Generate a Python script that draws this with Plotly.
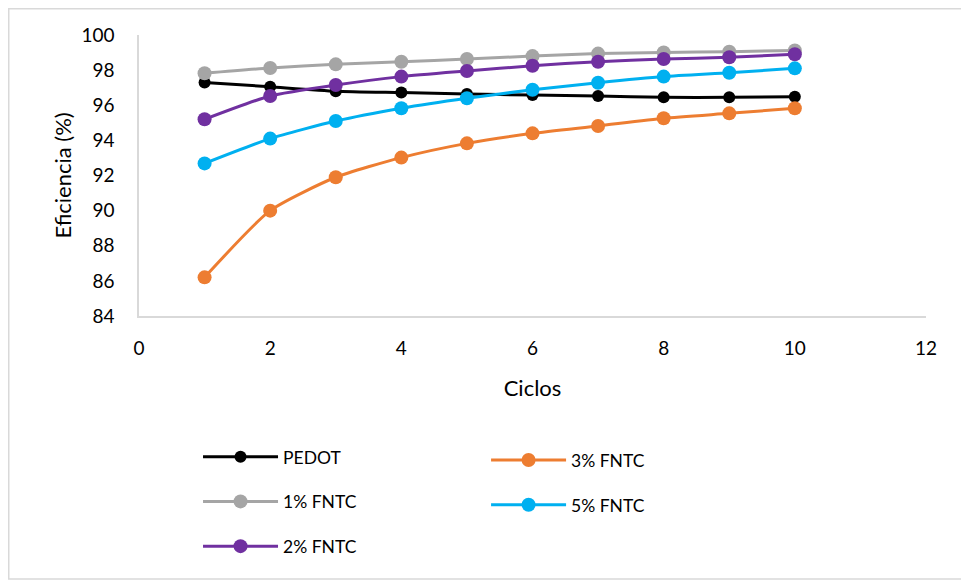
import plotly.graph_objects as go

ciclos = [1, 2, 3, 4, 5, 6, 7, 8, 9, 10]
pedot = [97.3, 97.05, 96.8, 96.72, 96.64, 96.58, 96.53, 96.45, 96.45, 96.49]
fntc1 = [97.82, 98.12, 98.33, 98.48, 98.63, 98.8, 98.94, 99.01, 99.05, 99.12]
fntc2 = [95.2, 96.53, 97.15, 97.63, 97.95, 98.25, 98.48, 98.63, 98.73, 98.9]
fntc3 = [86.2, 90.0, 91.9, 93.02, 93.83, 94.4, 94.82, 95.26, 95.54, 95.83]
fntc5 = [92.69, 94.1, 95.1, 95.83, 96.4, 96.88, 97.28, 97.63, 97.85, 98.1]

series = [
    ("PEDOT", pedot, "#000000", 12, "legend"),
    ("1% FNTC", fntc1, "#A5A5A5", 14, "legend"),
    ("2% FNTC", fntc2, "#7030A0", 14, "legend"),
    ("3% FNTC", fntc3, "#ED7D31", 14, "legend2"),
    ("5% FNTC", fntc5, "#00B0F0", 14, "legend2"),
]

fig = go.Figure()
for name, vals, color, msize, leg in series:
    fig.add_trace(go.Scatter(
        x=ciclos, y=vals, name=name, mode="lines+markers",
        line=dict(color=color, width=3, shape="spline", smoothing=0.6),
        marker=dict(color=color, size=msize),
        legend=leg, legendgroup=name,
    ))

font_family = "Lato, 'Open Sans', sans-serif"
legend_common = dict(
    orientation="v", tracegroupgap=19, font=dict(family=font_family, size=17.5, color="#000"),
    bgcolor="rgba(0,0,0,0)", itemwidth=75, yanchor="top", xanchor="left",
)

W, H = 961, 573
L, R, T, B = 131, 43, 27, 265
pw, ph = W - L - R, H - T - B

fig.update_layout(
    width=W, height=H,
    margin=dict(l=L, r=R, t=T, b=B),
    paper_bgcolor="white", plot_bgcolor="white",
    font=dict(family=font_family, color="#000"),
    showlegend=True,
    legend=dict(x=0.075, y=-0.437, **legend_common),
    legend2=dict(x=0.441, y=-0.449, **legend_common),
    xaxis=dict(
        range=[0, 12], dtick=2, tick0=0, showgrid=False, zeroline=False,
        showline=True, linecolor="#D9D9D9", linewidth=1.5, ticks="",
        ticklabelstandoff=14,
        tickfont=dict(size=19, family=font_family),
        title=dict(text="Ciclos", font=dict(size=22, family=font_family), standoff=23),
    ),
    yaxis=dict(
        range=[84, 100], dtick=2, showgrid=False, zeroline=False,
        showline=True, linecolor="#D9D9D9", linewidth=1.5, ticks="",
        ticklabelstandoff=19,
        tickfont=dict(size=19, family=font_family),
        title=dict(text="Eficiencia (%)", font=dict(size=22, family=font_family), standoff=4),
    ),
    shapes=[dict(
        type="rect", xref="paper", yref="paper",
        x0=(0.75 - L) / pw, x1=(958 - L) / pw,
        y0=((H - B) - 571) / ph, y1=1 + (T - 0.75) / ph,
        line=dict(color="#D9D9D9", width=1.5), fillcolor="rgba(0,0,0,0)", layer="below",
    )],
)

fig.write_html("out.html")
